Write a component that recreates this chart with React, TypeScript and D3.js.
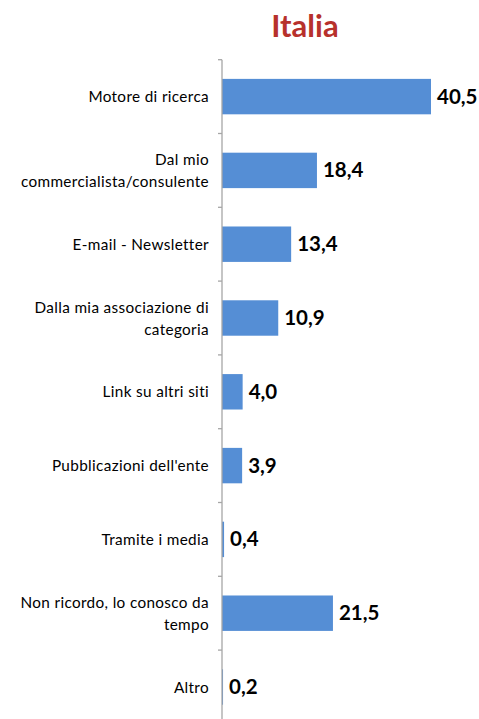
import React from "react";
import * as d3 from "d3";

const categories = [
  "Motore di ricerca",
  "Dal mio\ncommercialista/consulente",
  "E-mail - Newsletter",
  "Dalla mia associazione di\ncategoria",
  "Link su altri siti",
  "Pubblicazioni dell'ente",
  "Tramite i media",
  "Non ricordo, lo conosco da\ntempo",
  "Altro",
];
const values = [40.5, 18.4, 13.4, 10.9, 4.0, 3.9, 0.4, 21.5, 0.2];
const title = "Italia";

const width = 479;
const height = 719;
const axisX = 222;
const bandTop = 59.7;
const step = 73.8;

const App: React.FC = () => {
  const y = d3
    .scaleBand<number>()
    .domain(d3.range(categories.length))
    .range([bandTop, bandTop + step * categories.length])
    .paddingInner(0.52)
    .paddingOuter(0.26);

  const x = d3.scaleLinear().domain([0, 40.5]).range([axisX, 431]);
  const fmt = (v: number) => v.toFixed(1).replace(".", ",");
  const font = "Lato, 'Open Sans', sans-serif";

  return (
    <svg
      width={width}
      height={height}
      style={{ position: "absolute", left: 0, top: 0, background: "#fff" }}
    >
      <text
        x={305}
        y={37}
        textAnchor="middle"
        fontFamily={font}
        fontWeight="bold"
        fontSize={31}
        fill="#B7312C"
      >
        {title}
      </text>

      {/* bars */}
      {values.map((v, i) => (
        <rect
          key={"b" + i}
          x={x(0)}
          y={y(i)!}
          width={x(v) - x(0)}
          height={y.bandwidth()}
          fill="#558ED5"
        />
      ))}

      {/* axis */}
      <line
        x1={axisX}
        x2={axisX}
        y1={bandTop}
        y2={height}
        stroke="#A6A6A6"
        strokeWidth={1.3}
      />
      {d3.range(categories.length + 1).map((i) => (
        <line
          key={"t" + i}
          x1={axisX - 4}
          x2={axisX}
          y1={bandTop + i * step}
          y2={bandTop + i * step}
          stroke="#A6A6A6"
          strokeWidth={1.3}
        />
      ))}

      {/* category labels */}
      {categories.map((c, i) => {
        const lines = c.split("\n");
        const cy = y(i)! + y.bandwidth() / 2;
        const lh = 22;
        return (
          <text
            key={"l" + i}
            x={209}
            textAnchor="end"
            fontFamily={font}
            fontSize={15.3}
            letterSpacing={0.35}
            fill="#000"
          >
            {lines.map((ln, j) => (
              <tspan
                key={j}
                x={209}
                y={cy + 5.5 + (j - (lines.length - 1) / 2) * lh}
              >
                {ln}
              </tspan>
            ))}
          </text>
        );
      })}

      {/* value labels */}
      {values.map((v, i) => (
        <text
          key={"v" + i}
          x={x(v) + 6}
          y={y(i)! + y.bandwidth() / 2 + 7}
          fontFamily={font}
          fontWeight="bold"
          fontSize={20.5}
          fill="#000"
        >
          {fmt(v)}
        </text>
      ))}
    </svg>
  );
};

export default App;
